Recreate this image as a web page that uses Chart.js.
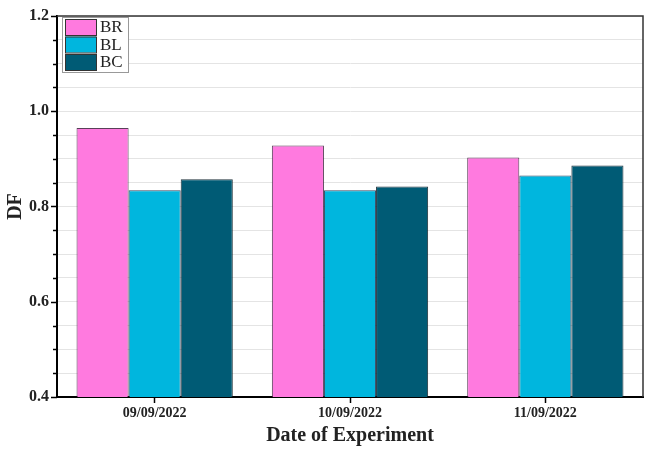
<!DOCTYPE html>
<html><head><meta charset="utf-8">
<script src="https://cdn.jsdelivr.net/npm/chart.js@4/dist/chart.umd.min.js"></script>
<style>html,body{margin:0;padding:0;background:#fff}#wrap{width:647px;height:452px}</style>
</head><body><div id="wrap"><canvas id="c" width="647" height="452"></canvas></div>
<script>
const categories = ['09/09/2022', '10/09/2022', '11/09/2022'];
const seriesNames = ['BR', 'BL', 'BC'];
const brValues = [0.965, 0.928, 0.903];
const blValues = [0.834, 0.834, 0.865];
const bcValues = [0.857, 0.842, 0.886];
const yTickLabels = ['0.4', '0.6', '0.8', '1.0', '1.2'];
const colors = ['#FF7ADF', '#00B6DE', '#005B75'];

const F = '"Liberation Serif", "Times New Roman", serif';

const legendAndFrame = {
  id: 'legendAndFrame',
  afterDraw(chart) {
    const ctx = chart.ctx, a = chart.chartArea;
    ctx.save();
    ctx.strokeStyle = '#333'; ctx.lineWidth = 1.5;
    ctx.beginPath();
    ctx.moveTo(a.left, a.top); ctx.lineTo(a.right, a.top); ctx.lineTo(a.right, a.bottom);
    ctx.stroke();
    const ys = chart.scales.y;
    ctx.strokeStyle = '#000'; ctx.lineWidth = 1.5;
    for (let v = 0.4; v <= 1.2001; v += 0.05) {
      const p = Math.round(ys.getPixelForValue(v)) + 0.5;
      const major = Math.abs(v * 5 - Math.round(v * 5)) < 1e-6;
      ctx.beginPath(); ctx.moveTo(a.left, p); ctx.lineTo(a.left - (major ? 6 : 4), p); ctx.stroke();
    }
    const lx = a.left + 5, ly = a.top + 1, lw = 66, lh = 55;
    ctx.fillStyle = '#fff'; ctx.fillRect(lx, ly, lw, lh);
    ctx.strokeStyle = '#999'; ctx.lineWidth = 1; ctx.strokeRect(lx + 0.5, ly + 0.5, lw, lh);
    chart.data.datasets.forEach((ds, i) => {
      const ry = ly + 2 + i * 17.5;
      ctx.fillStyle = ds.backgroundColor;
      ctx.fillRect(lx + 3, ry, 31, 16);
      ctx.strokeStyle = '#333'; ctx.lineWidth = 1;
      ctx.strokeRect(lx + 3.5, ry + 0.5, 31, 16);
      ctx.fillStyle = '#222'; ctx.font = '17px ' + F;
      ctx.textBaseline = 'middle'; ctx.textAlign = 'left';
      ctx.fillText(ds.label, lx + 38, ry + 9);
    });
    ctx.restore();
  }
};

new Chart(document.getElementById('c'), {
  type: 'bar',
  data: {
    labels: categories,
    datasets: [
      { label: seriesNames[0], data: brValues, backgroundColor: colors[0], borderColor: 'rgba(60,30,60,0.85)', borderWidth: 1 },
      { label: seriesNames[1], data: blValues, backgroundColor: colors[1], borderColor: 'rgba(20,40,70,0.85)', borderWidth: 1 },
      { label: seriesNames[2], data: bcValues, backgroundColor: colors[2], borderColor: 'rgba(10,30,40,0.9)', borderWidth: 1 }
    ]
  },
  options: {
    responsive: false,
    animation: false,
    layout: { padding: { left: 0, right: 4, top: 15, bottom: 0 } },
    plugins: { legend: { display: false }, tooltip: { enabled: false } },
    datasets: { bar: { categoryPercentage: 0.8, barPercentage: 1.0 } },
    scales: {
      x: {
        grid: { offset: false, drawOnChartArea: false, drawTicks: true, tickLength: 6, tickColor: '#000', tickWidth: 1.5 },
        border: { color: '#000', width: 2 },
        ticks: { color: '#222', font: { family: F, size: 14, weight: 'bold' }, padding: 2 },
        title: { display: true, text: 'Date of Experiment', color: '#222', font: { family: F, size: 20, weight: 'bold' }, padding: { top: 2 } },
        afterFit(s) { s.height = 55; }
      },
      y: {
        min: 0.4, max: 1.2,
        grid: { color: '#e4e4e4', lineWidth: 1, drawTicks: false },
        border: { color: '#000', width: 2 },
        ticks: {
          stepSize: 0.05, autoSkip: false, padding: 8, color: '#222',
          font: { family: F, size: 16, weight: 'bold', lineHeight: 1.0 },
          callback(v) {
            const k = Math.round(v * 5);
            if (Math.abs(v * 5 - k) < 1e-6) { const idx = k - 2; return yTickLabels[idx] ?? ''; }
            return '';
          }
        },
        title: { display: true, text: 'DF', color: '#222', font: { family: F, size: 20, weight: 'bold' }, padding: { bottom: 2 } },
        afterFit(s) { s.width = 57; }
      }
    }
  },
  plugins: [legendAndFrame]
});
</script></body></html>
